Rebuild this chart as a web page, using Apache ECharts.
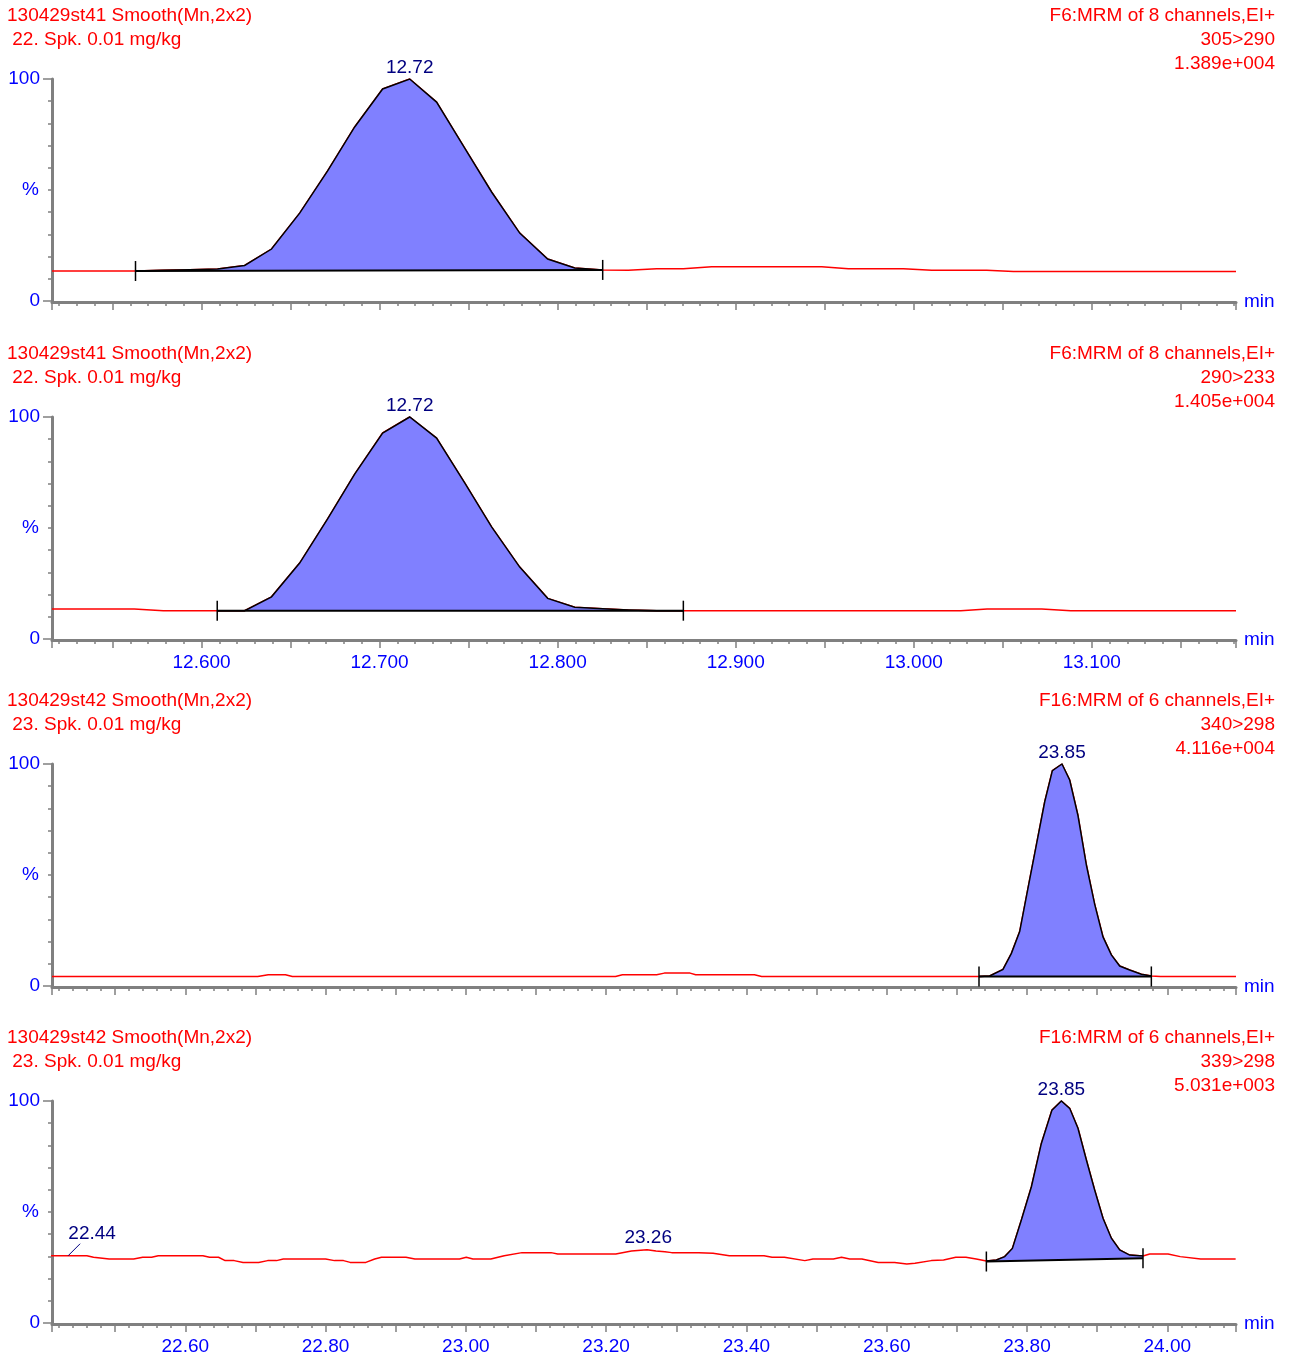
<!DOCTYPE html>
<html>
<head>
<meta charset="utf-8">
<script src="https://cdn.jsdelivr.net/npm/echarts@6/dist/echarts.min.js"></script>
<style>
html, body { margin: 0; padding: 0; background: #fff; }
#chart { width: 1290px; height: 1360px; }
</style>
</head>
<body>
<div id="chart"></div>
<script>
// titles of the four traces
const leftTitles = [
  ['130429st41 Smooth(Mn,2x2)', ' 22. Spk. 0.01 mg/kg'],
  ['130429st41 Smooth(Mn,2x2)', ' 22. Spk. 0.01 mg/kg'],
  ['130429st42 Smooth(Mn,2x2)', ' 23. Spk. 0.01 mg/kg'],
  ['130429st42 Smooth(Mn,2x2)', ' 23. Spk. 0.01 mg/kg']
];
const rightTitles = [
  ['F6:MRM of 8 channels,EI+', '305>290', '1.389e+004'],
  ['F6:MRM of 8 channels,EI+', '290>233', '1.405e+004'],
  ['F16:MRM of 6 channels,EI+', '340>298', '4.116e+004'],
  ['F16:MRM of 6 channels,EI+', '339>298', '5.031e+003']
];

// time ranges (min)
const xRanges = [[12.516, 13.181], [12.516, 13.181], [22.41, 24.098], [22.41, 24.098]];

// red traces [time, %]
const trace1 = [
  [12.516, 13.5], [12.5629, 13.5], [12.5781, 13.9], [12.5933, 14.1], [12.609, 14.4],
  [12.6242, 16.0], [12.6393, 23.4], [12.6551, 39.6], [12.6708, 58.6], [12.686, 78.4],
  [12.7017, 95.5], [12.7169, 100], [12.732, 89.6], [12.7478, 68.9], [12.7629, 49.1],
  [12.7787, 30.6], [12.7944, 18.9], [12.8096, 14.9], [12.8253, 14.0], [12.8397, 13.8],
  [12.8556, 14.55], [12.8706, 14.55], [12.8865, 15.45], [12.9483, 15.45], [12.9633, 14.55],
  [12.9942, 14.55], [13.0101, 13.8], [13.041, 13.8], [13.056, 13.3], [13.181, 13.3]
];
const trace2 = [
  [12.516, 13.5], [12.5622, 13.5], [12.5785, 12.75], [12.6088, 12.75], [12.6242, 12.75],
  [12.6393, 19.0], [12.6551, 34.2], [12.6708, 54.1], [12.686, 74.3], [12.7017, 92.8],
  [12.7169, 100], [12.732, 90.5], [12.7478, 70.3], [12.7629, 50.5], [12.7787, 32.4],
  [12.7944, 18.3], [12.8096, 14.3], [12.8253, 13.6], [12.8397, 13.1], [12.8556, 12.75],
  [12.8706, 12.75], [13.0264, 12.75], [13.0412, 13.5], [13.0719, 13.5], [13.0882, 12.75],
  [13.181, 12.75]
];
const trace3 = [
  [22.41, 4.3], [22.7033, 4.3], [22.7183, 5.1], [22.7428, 5.1], [22.7527, 4.3],
  [23.2134, 4.3], [23.2232, 5.1], [23.2721, 5.1], [23.283, 5.8], [23.3197, 5.8],
  [23.3277, 5.1], [23.4114, 5.1], [23.4218, 4.3], [23.7316, 4.3], [23.7468, 4.5],
  [23.7658, 7.5], [23.7778, 14.7], [23.7896, 24.5], [23.8014, 44.0], [23.8134, 63.6],
  [23.8253, 83.0], [23.8362, 97.0], [23.8499, 100], [23.8609, 92.8], [23.8727, 76.8],
  [23.8847, 54.5], [23.8965, 36.9], [23.9084, 22.1], [23.9203, 14.0], [23.9322, 9.0],
  [23.9464, 7.2], [23.9631, 5.3], [23.9773, 4.5], [23.99, 4.3], [24.098, 4.3]
];
const trace4 = [
  [22.4087, 30.3], [22.4597, 30.3], [22.4692, 29.6], [22.4915, 28.8], [22.5264, 28.8],
  [22.5393, 29.6], [22.552, 29.6], [22.5615, 30.3], [22.6251, 30.3], [22.6347, 29.6],
  [22.6474, 29.6], [22.6569, 28.1], [22.6697, 28.1], [22.6824, 27.3], [22.7046, 27.3],
  [22.7175, 28.1], [22.7301, 28.1], [22.7397, 28.8], [22.8001, 28.8], [22.8128, 28.1],
  [22.8256, 28.1], [22.8351, 27.3], [22.8575, 27.3], [22.8701, 28.8], [22.8797, 29.6],
  [22.9147, 29.6], [22.9274, 28.8], [22.991, 28.8], [23.0006, 29.6], [23.0101, 28.8],
  [23.0356, 28.8], [23.0547, 30.3], [23.0801, 31.7], [23.1215, 31.7], [23.131, 31.1],
  [23.2138, 31.1], [23.2361, 32.4], [23.2583, 33.0], [23.2711, 32.4], [23.2838, 32.1],
  [23.2934, 31.7], [23.332, 31.7], [23.3524, 31.4], [23.3756, 30.3], [23.4251, 30.3],
  [23.4366, 29.6], [23.4542, 29.6], [23.4833, 28.1], [23.4949, 28.8], [23.524, 28.8],
  [23.5356, 29.6], [23.5473, 28.8], [23.5646, 28.8], [23.588, 27.3], [23.6113, 27.3],
  [23.6287, 26.6], [23.6403, 26.9], [23.6636, 28.1], [23.6811, 28.4], [23.6985, 29.6],
  [23.713, 29.6], [23.7276, 28.8], [23.7421, 27.9], [23.7564, 28.4], [23.7682, 29.9],
  [23.7792, 33.6], [23.792, 46.4], [23.8063, 61.4], [23.8205, 80.9], [23.8356, 95.9],
  [23.849, 100], [23.8609, 96.7], [23.8727, 87.7], [23.8847, 73.4], [23.8965, 59.9],
  [23.9084, 47.2], [23.9203, 38.2], [23.9322, 32.9], [23.9464, 30.6], [23.9654, 30.2],
  [23.975, 31.1], [24.0011, 31.1], [24.0185, 29.9], [24.0476, 28.8], [24.0975, 28.8]
];

// integrated peaks: outline points and the drawn baseline
const peak1 = trace1.slice(1, 19);
const base1 = [[12.5629, 13.5], [12.8253, 14.0]];
const peak2 = trace2.slice(3, 21);
const base2 = [[12.6088, 12.75], [12.8706, 12.75]];
const peak3 = trace3.slice(13, 33);
const base3 = [[23.7316, 4.3], [23.9773, 4.3]];
const peak4 = trace4.slice(62, 80);
const base4 = [[23.7421, 27.7], [23.9654, 29.2]];

// peak labels [time, %, text]
const labels1 = [[12.7169, 100, '12.72']];
const labels2 = [[12.7169, 100, '12.72']];
const labels3 = [[23.8499, 100, '23.85']];
const labels4 = [[23.849, 100, '23.85'], [23.26, 33.0, '23.26'], [22.433, 30.3, '22.44']];

const traces = [trace1, trace2, trace3, trace4];
const peaks = [peak1, peak2, peak3, peak4];
const bases = [base1, base2, base3, base4];
const labels = [labels1, labels2, labels3, labels4];

const FONT = '"Liberation Sans", Arial, sans-serif';
const FS = 19;
const gridTops = [79, 417, 764, 1101];
const titleTops = [16, 354, 701, 1038];
const GRAY = '#808080';

const chart = echarts.init(document.getElementById('chart'), null, { renderer: 'canvas' });

const grids = [], xAxes = [], yAxes = [], series = [], graphics = [];

for (let i = 0; i < 4; i++) {
  const upper = i < 2;
  grids.push({ left: 52, width: 1184, top: gridTops[i], height: 222, containLabel: false, outerBoundsMode: 'none' });

  const step = upper ? 0.1 : 0.2;
  const dec = upper ? 3 : 2;
  xAxes.push({
    type: 'value', gridIndex: i,
    min: xRanges[i][0], max: xRanges[i][1],
    splitNumber: upper ? 13 : 17,
    offset: 1,
    name: 'min', nameLocation: 'end', nameGap: 8,
    nameTextStyle: { color: '#0000ff', fontSize: FS, fontFamily: FONT, padding: [5, 0, 0, 0] },
    axisLine: { show: true, onZero: false, lineStyle: { color: GRAY, width: 3 } },
    axisTick: { show: true, length: 8, lineStyle: { color: GRAY, width: 1.5 } },
    minorTick: { show: true, splitNumber: 5, length: 4, lineStyle: { color: GRAY, width: 1.5 } },
    splitLine: { show: false },
    minorSplitLine: { show: false },
    axisLabel: {
      show: i === 1 || i === 3, color: '#0000ff', fontSize: FS, fontFamily: FONT, margin: 13,
      showMinLabel: false, showMaxLabel: false,
      formatter: function (v) {
        const k = v / step;
        return Math.abs(k - Math.round(k)) < 1e-6 ? v.toFixed(dec) : '';
      }
    }
  });

  // small ticks every 10 %, '%' in the middle
  yAxes.push({
    type: 'value', gridIndex: i, position: 'left', min: 0, max: 100, interval: 10,
    axisLine: { show: true, lineStyle: { color: GRAY, width: 3 } },
    axisTick: { show: true, length: 4, lineStyle: { color: GRAY, width: 1.5 } },
    splitLine: { show: false },
    axisLabel: { color: '#0000ff', fontSize: FS, fontFamily: FONT, margin: 13,
      formatter: function (v) { return v === 50 ? '%' : ''; } }
  });
  // long ticks and labels at 0 and 100
  yAxes.push({
    type: 'value', gridIndex: i, position: 'left', min: 0, max: 100, interval: 100,
    axisLine: { show: false },
    axisTick: { show: true, length: 9, lineStyle: { color: GRAY, width: 1.5 } },
    splitLine: { show: false },
    axisLabel: { color: '#0000ff', fontSize: FS, fontFamily: FONT, margin: 12 }
  });

  series.push({
    type: 'line', xAxisIndex: i, yAxisIndex: 2 * i, data: traces[i],
    showSymbol: false, symbol: 'none', z: 2,
    lineStyle: { color: '#ff0000', width: 1.5 }
  });

  const pk = peaks[i], bs = bases[i];
  series.push({
    type: 'custom', xAxisIndex: i, yAxisIndex: 2 * i, data: pk, z: 3,
    encode: { x: 0, y: 1 },
    renderItem: function (params, api) {
      if (params.dataIndex !== 0) return null;
      const curve = pk.map(function (p) { return api.coord(p); });
      const b0 = api.coord(bs[0]), b1 = api.coord(bs[1]);
      return {
        type: 'group',
        children: [
          { type: 'polygon', shape: { points: curve.concat([b1, b0]) }, style: { fill: '#8080ff' } },
          { type: 'polyline', shape: { points: curve }, style: { stroke: '#000', lineWidth: 1.5, fill: null } },
          { type: 'line', shape: { x1: b0[0], y1: b0[1], x2: b1[0], y2: b1[1] }, style: { stroke: '#000', lineWidth: 2 } },
          { type: 'line', shape: { x1: b0[0], y1: b0[1] - 10, x2: b0[0], y2: b0[1] + 10 }, style: { stroke: '#000', lineWidth: 1.5 } },
          { type: 'line', shape: { x1: b1[0], y1: b1[1] - 10, x2: b1[0], y2: b1[1] + 10 }, style: { stroke: '#000', lineWidth: 1.5 } }
        ]
      };
    }
  });

  const lb = labels[i];
  series.push({
    type: 'custom', xAxisIndex: i, yAxisIndex: 2 * i, z: 4,
    data: lb.map(function (d) { return [d[0], d[1]]; }),
    encode: { x: 0, y: 1 },
    renderItem: function (params, api) {
      const d = lb[params.dataIndex];
      const pt = api.coord([d[0], d[1]]);
      const leader = d[2] === '22.44';
      const children = [{
        type: 'text',
        x: leader ? pt[0] + 24 : pt[0], y: leader ? pt[1] - 12 : pt[1] - 2,
        style: { text: d[2], font: FS + 'px ' + FONT, fill: '#000080', textAlign: 'center', textVerticalAlign: 'bottom' }
      }];
      if (leader) {
        children.push({ type: 'line', shape: { x1: pt[0], y1: pt[1], x2: pt[0] + 12, y2: pt[1] - 12 },
          style: { stroke: '#000080', lineWidth: 1 } });
      }
      return { type: 'group', children: children };
    }
  });

  // header texts
  leftTitles[i].forEach(function (t, k) {
    graphics.push({ type: 'text', x: 7, y: titleTops[i] + k * 24,
      style: { text: t, font: FS + 'px ' + FONT, fill: '#ff0000', textAlign: 'left', textVerticalAlign: 'middle' } });
  });
  rightTitles[i].forEach(function (t, k) {
    graphics.push({ type: 'text', x: 1275, y: titleTops[i] + k * 24,
      style: { text: t, font: FS + 'px ' + FONT, fill: '#ff0000', textAlign: 'right', textVerticalAlign: 'middle' } });
  });
}

chart.setOption({
  animation: false,
  backgroundColor: '#fff',
  grid: grids,
  xAxis: xAxes,
  yAxis: yAxes,
  series: series,
  graphic: graphics
});
</script>
</body>
</html>
